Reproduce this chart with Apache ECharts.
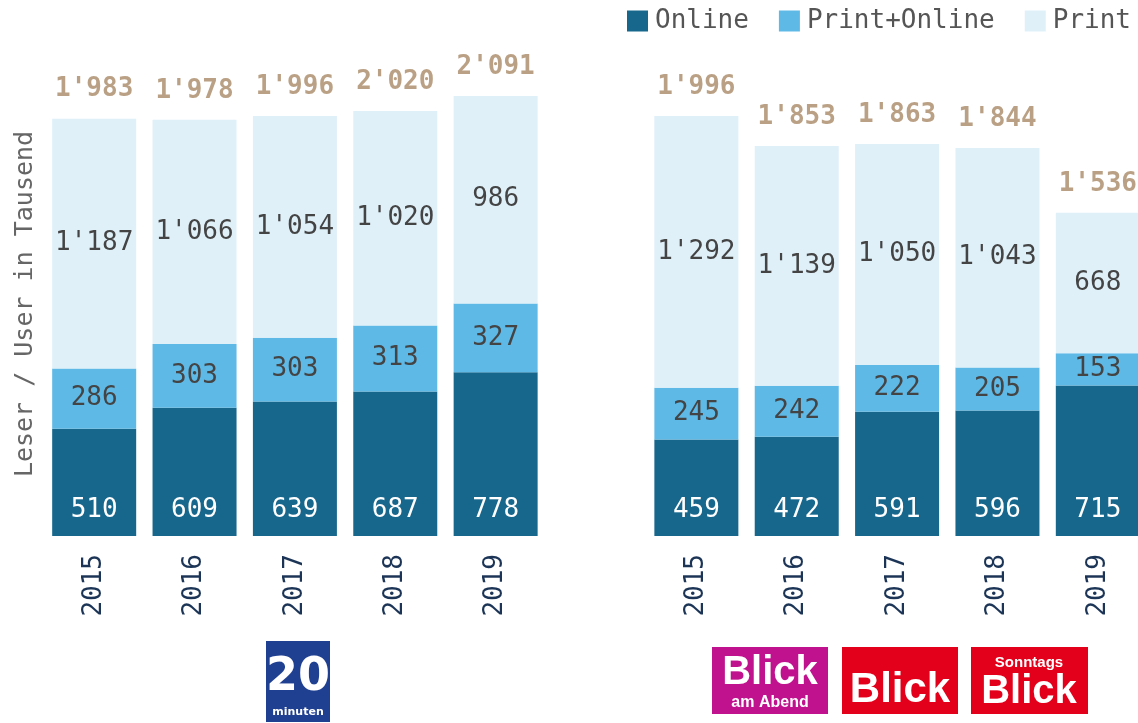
<!DOCTYPE html>
<html><head><meta charset="utf-8">
<script src="https://cdn.jsdelivr.net/npm/echarts@6/dist/echarts.min.js"></script>
<style>html,body{margin:0;padding:0;background:#fff}#c{width:1138px;height:723px}</style>
</head><body><div id="c"></div>
<script>
const years = ['2015','2016','2017','2018','2019'];
// 20 Minuten
const minOnline = [510, 609, 639, 687, 778];
const minPrintOnline = [286, 303, 303, 313, 327];
const minPrint = [1187, 1066, 1054, 1020, 986];
const minTotal = [1983, 1978, 1996, 2020, 2091];
// Blick
const blickOnline = [459, 472, 591, 596, 715];
const blickPrintOnline = [245, 242, 222, 205, 153];
const blickPrint = [1292, 1139, 1050, 1043, 668];
const blickTotal = [1996, 1853, 1863, 1844, 1536];

const cats = years.concat(['']).concat(years.map(y => y + ' '));
const join = (a, b) => a.concat([null]).concat(b);
const fmt = v => { const n = Math.round(v); return n >= 1000 ? Math.floor(n/1000) + "'" + String(n%1000).padStart(3,'0') : String(n); };
const FONT = 'DejaVu Sans Mono';

const chart = echarts.init(document.getElementById('c'));
chart.setOption({
  animation: false,
  legend: {
    right: 2, top: 3, itemWidth: 21, itemHeight: 21, itemGap: 30, icon: 'rect',
    textStyle: {fontFamily: FONT, fontSize: 26, color: '#555', padding: [0,0,0,2]},
    data: ['Online', 'Print+Online', 'Print']
  },
  grid: {left: 44, width: 1104, top: 52, height: 484, outerBoundsMode: 'none', containLabel: false},
  xAxis: {
    type: 'category', data: cats,
    axisLine: {show: false}, axisTick: {show: false},
    axisLabel: {rotate: 90, margin: 18, fontFamily: FONT, fontSize: 26, color: '#1c3557',
      formatter: v => v.trim(), interval: 0}
  },
  yAxis: {type: 'value', min: 0, max: 2300, show: false},
  series: [
    {name: 'Online', type: 'bar', stack: 's', barWidth: 84, data: join(minOnline, blickOnline),
      itemStyle: {color: '#17678d'},
      label: {show: true, position: 'insideBottom', distance: 13, fontFamily: FONT, fontSize: 26, color: '#fff', formatter: p => fmt(p.value)}},
    {name: 'Print+Online', type: 'bar', stack: 's', barWidth: 84, data: join(minPrintOnline, blickPrintOnline),
      itemStyle: {color: '#5eb9e6'},
      label: {show: true, position: 'inside', fontFamily: FONT, fontSize: 26, color: '#444', formatter: p => fmt(p.value)}},
    {name: 'Print', type: 'bar', stack: 's', barWidth: 84, data: join(minPrint, blickPrint),
      itemStyle: {color: '#dff0f9'},
      label: {show: true, position: 'inside', fontFamily: FONT, fontSize: 26, color: '#444', formatter: p => fmt(p.value)}},
    {name: 'Total', type: 'scatter', symbolSize: 0, data: join(minTotal, blickTotal),
      label: {show: true, position: 'top', distance: 16, fontFamily: FONT, fontSize: 26, fontWeight: 'bold', color: '#a98a67', formatter: p => fmt(p.value)}}
  ],
  graphic: [
    {type: 'text', x: 25, y: 304, rotation: Math.PI/2,
      style: {text: 'Leser / User in Tausend', font: '25px "DejaVu Sans Mono"', fill: '#666', textAlign: 'center', textVerticalAlign: 'middle'}},
    // 20 Minuten logo
    {type: 'rect', shape: {x: 266, y: 641, width: 64, height: 81}, style: {fill: '#1f3f91'}},
    {type: 'text', x: 298, y: 678, style: {text: '20', font: 'bold 46px "DejaVu Sans"', fill: '#fff', textAlign: 'center', textVerticalAlign: 'middle'}},
    {type: 'text', x: 298, y: 712, style: {text: 'minuten', font: 'bold 11px "DejaVu Sans"', fill: '#fff', textAlign: 'center', textVerticalAlign: 'middle'}},
    // Blick am Abend
    {type: 'rect', shape: {x: 712, y: 647, width: 116, height: 67}, style: {fill: '#c0128e'}},
    {type: 'text', x: 770, y: 673, style: {text: 'Blick', font: 'bold 40px "Liberation Sans"', fill: '#fff', textAlign: 'center', textVerticalAlign: 'middle'}},
    {type: 'text', x: 770, y: 703, style: {text: 'am Abend', font: 'bold 16px "Liberation Sans"', fill: '#fff', textAlign: 'center', textVerticalAlign: 'middle'}},
    // Blick
    {type: 'rect', shape: {x: 842, y: 647, width: 116, height: 67}, style: {fill: '#e3001b'}},
    {type: 'text', x: 900, y: 690, style: {text: 'Blick', font: 'bold 42px "Liberation Sans"', fill: '#fff', textAlign: 'center', textVerticalAlign: 'middle'}},
    // Sonntags Blick
    {type: 'rect', shape: {x: 971, y: 647, width: 117, height: 67}, style: {fill: '#e3001b'}},
    {type: 'text', x: 1029, y: 663, style: {text: 'Sonntags', font: 'bold 15px "Liberation Sans"', fill: '#fff', textAlign: 'center', textVerticalAlign: 'middle'}},
    {type: 'text', x: 1029, y: 692, style: {text: 'Blick', font: 'bold 40px "Liberation Sans"', fill: '#fff', textAlign: 'center', textVerticalAlign: 'middle'}}
  ]
});
</script></body></html>
